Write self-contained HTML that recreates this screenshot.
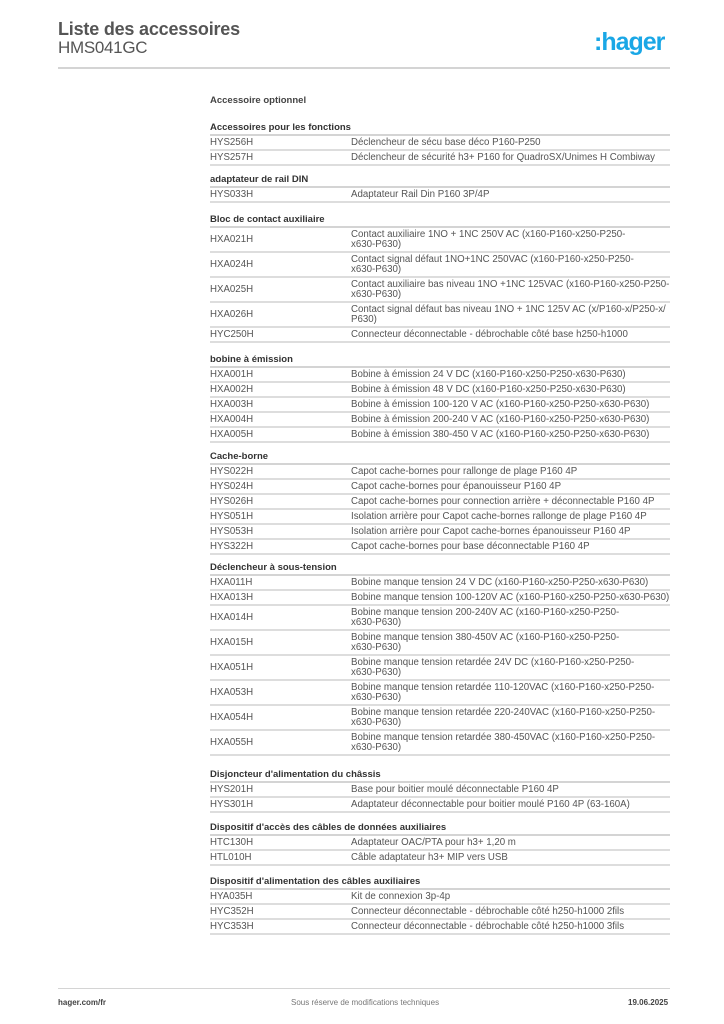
<!DOCTYPE html>
<html><head><meta charset="utf-8"><style>
body{margin:0;width:724px;height:1024px;background:#fff;position:relative;font-family:"Liberation Sans",Arial,sans-serif;color:#555;overflow:hidden}
.t1{position:absolute;left:58px;top:19px;font-size:18px;font-weight:bold;color:#555;letter-spacing:-0.2px}
.t2{position:absolute;left:58px;top:38px;font-size:17px;color:#555;letter-spacing:-0.3px}
.logo{position:absolute;left:594px;top:28px;font-size:25px;font-weight:bold;color:#1aa7e6;letter-spacing:-1px}
.hr{position:absolute;left:58px;width:612px;height:2px;background:#d4d4d4}
.opt{position:absolute;left:210px;top:95px;font-size:9.5px;font-weight:bold;color:#444}
.sec{position:absolute;left:210px;width:460px;font-size:9.7px}
.h{height:15px;line-height:14px;font-weight:bold;color:#333;border-bottom:2px solid #d4d4d4;box-sizing:border-box;margin-top:-1px;font-size:9.5px}
.r{display:flex;border-bottom:2px solid #ddd;box-sizing:border-box;height:15px;align-items:center}
.r.d{height:25px}
.r .c{width:141px;flex:none}
.r .x{flex:1;line-height:10px;white-space:nowrap}
.foot{position:absolute;top:998px;font-size:8px}
</style></head><body>
<div class="t1">Liste des accessoires</div>
<div class="t2">HMS041GC</div>
<div class="logo">:hager</div>
<div class="hr" style="top:67px"></div>
<div class="opt">Accessoire optionnel</div>

<div class="sec" style="top:122px">
<div class="h">Accessoires pour les fonctions</div>
<div class="r"><span class="c">HYS256H</span><span class="x">Déclencheur de sécu base déco P160-P250</span></div>
<div class="r"><span class="c">HYS257H</span><span class="x">Déclencheur de sécurité h3+ P160 for QuadroSX/Unimes H Combiway</span></div>
</div>

<div class="sec" style="top:174px">
<div class="h">adaptateur de rail DIN</div>
<div class="r"><span class="c">HYS033H</span><span class="x">Adaptateur Rail Din P160 3P/4P</span></div>
</div>

<div class="sec" style="top:214px">
<div class="h">Bloc de contact auxiliaire</div>
<div class="r d"><span class="c">HXA021H</span><span class="x">Contact auxiliaire 1NO + 1NC 250V AC (x160-P160-x250-P250-<br>x630-P630)</span></div>
<div class="r d"><span class="c">HXA024H</span><span class="x">Contact signal défaut 1NO+1NC 250VAC (x160-P160-x250-P250-<br>x630-P630)</span></div>
<div class="r d"><span class="c">HXA025H</span><span class="x">Contact auxiliaire bas niveau 1NO +1NC 125VAC (x160-P160-x250-P250-<br>x630-P630)</span></div>
<div class="r d"><span class="c">HXA026H</span><span class="x">Contact signal défaut bas niveau 1NO + 1NC 125V AC (x/P160-x/P250-x/<br>P630)</span></div>
<div class="r"><span class="c">HYC250H</span><span class="x">Connecteur déconnectable - débrochable côté base h250-h1000</span></div>
</div>

<div class="sec" style="top:354px">
<div class="h">bobine à émission</div>
<div class="r"><span class="c">HXA001H</span><span class="x">Bobine à émission 24 V DC (x160-P160-x250-P250-x630-P630)</span></div>
<div class="r"><span class="c">HXA002H</span><span class="x">Bobine à émission 48 V DC (x160-P160-x250-P250-x630-P630)</span></div>
<div class="r"><span class="c">HXA003H</span><span class="x">Bobine à émission 100-120 V AC (x160-P160-x250-P250-x630-P630)</span></div>
<div class="r"><span class="c">HXA004H</span><span class="x">Bobine à émission 200-240 V AC (x160-P160-x250-P250-x630-P630)</span></div>
<div class="r"><span class="c">HXA005H</span><span class="x">Bobine à émission 380-450 V AC (x160-P160-x250-P250-x630-P630)</span></div>
</div>

<div class="sec" style="top:451px">
<div class="h">Cache-borne</div>
<div class="r"><span class="c">HYS022H</span><span class="x">Capot cache-bornes pour rallonge de plage P160 4P</span></div>
<div class="r"><span class="c">HYS024H</span><span class="x">Capot cache-bornes pour épanouisseur P160 4P</span></div>
<div class="r"><span class="c">HYS026H</span><span class="x">Capot cache-bornes pour connection arrière + déconnectable P160 4P</span></div>
<div class="r"><span class="c">HYS051H</span><span class="x">Isolation arrière pour Capot cache-bornes rallonge de plage P160 4P</span></div>
<div class="r"><span class="c">HYS053H</span><span class="x">Isolation arrière pour Capot cache-bornes épanouisseur P160 4P</span></div>
<div class="r"><span class="c">HYS322H</span><span class="x">Capot cache-bornes pour base déconnectable P160 4P</span></div>
</div>

<div class="sec" style="top:562px">
<div class="h">Déclencheur à sous-tension</div>
<div class="r"><span class="c">HXA011H</span><span class="x">Bobine manque tension 24 V DC (x160-P160-x250-P250-x630-P630)</span></div>
<div class="r"><span class="c">HXA013H</span><span class="x">Bobine manque tension 100-120V AC (x160-P160-x250-P250-x630-P630)</span></div>
<div class="r d"><span class="c">HXA014H</span><span class="x">Bobine manque tension 200-240V AC (x160-P160-x250-P250-<br>x630-P630)</span></div>
<div class="r d"><span class="c">HXA015H</span><span class="x">Bobine manque tension 380-450V AC (x160-P160-x250-P250-<br>x630-P630)</span></div>
<div class="r d"><span class="c">HXA051H</span><span class="x">Bobine manque tension retardée 24V DC (x160-P160-x250-P250-<br>x630-P630)</span></div>
<div class="r d"><span class="c">HXA053H</span><span class="x">Bobine manque tension retardée 110-120VAC (x160-P160-x250-P250-<br>x630-P630)</span></div>
<div class="r d"><span class="c">HXA054H</span><span class="x">Bobine manque tension retardée 220-240VAC (x160-P160-x250-P250-<br>x630-P630)</span></div>
<div class="r d"><span class="c">HXA055H</span><span class="x">Bobine manque tension retardée 380-450VAC (x160-P160-x250-P250-<br>x630-P630)</span></div>
</div>

<div class="sec" style="top:769px">
<div class="h">Disjoncteur d'alimentation du châssis</div>
<div class="r"><span class="c">HYS201H</span><span class="x">Base pour boitier moulé déconnectable P160 4P</span></div>
<div class="r"><span class="c">HYS301H</span><span class="x">Adaptateur déconnectable pour boitier moulé P160 4P (63-160A)</span></div>
</div>

<div class="sec" style="top:822px">
<div class="h">Dispositif d'accès des câbles de données auxiliaires</div>
<div class="r"><span class="c">HTC130H</span><span class="x">Adaptateur OAC/PTA pour h3+ 1,20 m</span></div>
<div class="r"><span class="c">HTL010H</span><span class="x">Câble adaptateur h3+ MIP vers USB</span></div>
</div>

<div class="sec" style="top:876px">
<div class="h">Dispositif d'alimentation des câbles auxiliaires</div>
<div class="r"><span class="c">HYA035H</span><span class="x">Kit de connexion 3p-4p</span></div>
<div class="r"><span class="c">HYC352H</span><span class="x">Connecteur déconnectable - débrochable côté h250-h1000 2fils</span></div>
<div class="r"><span class="c">HYC353H</span><span class="x">Connecteur déconnectable - débrochable côté h250-h1000 3fils</span></div>
</div>

<div class="hr" style="top:988px;height:1px"></div>
<div class="foot" style="left:58px;font-weight:bold;color:#444">hager.com/fr</div>
<div class="foot" style="left:291px;color:#777">Sous réserve de modifications techniques</div>
<div class="foot" style="left:628px;font-weight:bold;color:#444">19.06.2025</div>
</body></html>
